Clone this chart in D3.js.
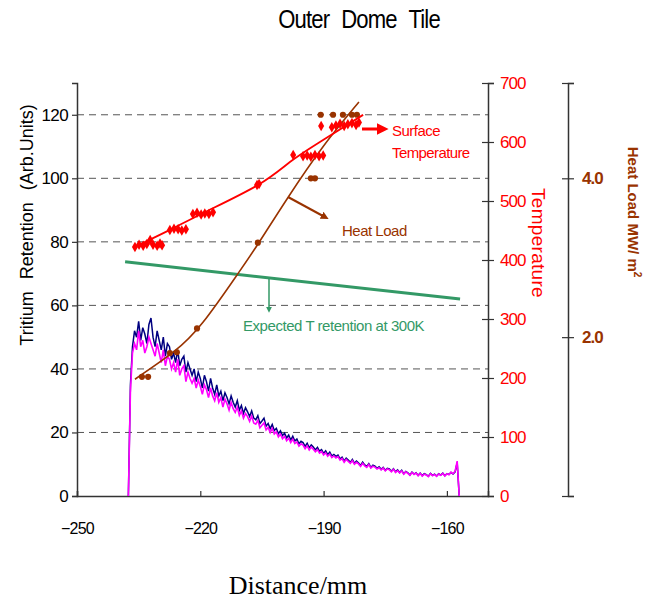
<!DOCTYPE html>
<html>
<head>
<meta charset="utf-8">
<script src="https://cdn.jsdelivr.net/npm/d3@7"></script>
<style>
  body { margin: 0; background: #fff; }
  text { font-family: "Liberation Sans", Arial, sans-serif; }
</style>
</head>
<body>
<svg id="chart" width="658" height="602"></svg>
<script>
// tritium retention scans, sampled every 0.5 mm from -237.5 mm
const scanStart = -237.5;
const scanStep = 0.5;
const blueRetention = [
  0, 35,
  47, 52, 50, 55, 49, 53, 51, 48, 54, 56,
  50, 47, 52, 49, 46, 50, 44, 48, 47, 43,
  45, 42, 46, 41, 43, 44, 39, 42, 40, 38,
  40, 36, 39, 37, 34, 38, 36, 33, 37, 34,
  32, 35, 31.5, 33, 30, 32.5, 31, 29, 31.5, 29.5,
  28, 30, 27, 28.5, 26, 27.8, 26.5, 25, 26.8, 24.5,
  24, 25.3, 22.8, 23.6, 24.5, 22, 22.8, 21.2, 22.5, 20.6,
  21.3, 19.6, 20.5, 19, 19.8, 18.3, 19.2, 17.6, 18.8, 17.3,
  17.9, 16.4, 17.2, 16.8, 15.6, 16.6, 15.2, 16.1, 15.4, 14.5,
  15.3, 14.1, 14.6, 13.4, 14.2, 13.0, 13.8, 12.6, 13.1, 12.5,
  12.9, 11.7, 12.2, 11.0, 11.9, 11.3, 10.6, 11.5, 10.3, 11.0,
  10.4, 9.6, 10.7, 9.8, 9.3, 10.2, 9.0, 9.7, 9.4, 8.7,
  9.2, 8.4, 9.0, 8.1, 8.7, 8.5, 7.8, 8.6, 7.6, 8.2,
  7.4, 8.1, 7.0, 7.7, 7.3, 6.6, 7.5, 6.9, 7.3, 6.5,
  7.2, 6.4, 7.0, 6.7, 6.2, 7.1, 6.5, 6.9, 6.3, 7.0,
  6.6, 7.2, 6.4, 7.0, 6.8, 7.4, 6.9, 7.6,
  10.5, 0
];
const magentaRetention = [
  0, 33,
  45, 48, 46, 52, 47, 49, 45, 47, 50, 48,
  46, 44, 48, 45, 42, 46, 41, 44, 43, 40,
  42, 39, 43, 38, 40, 41, 36, 39, 37, 35.5,
  37, 34, 36.5, 34.5, 32, 35, 33.5, 31, 34, 31.5,
  30, 32.5, 29.5, 31, 28, 30.5, 29, 27, 29.5, 27.5,
  26.3, 28, 25.4, 26.8, 24.5, 26, 25, 23.5, 25.2, 23,
  22.6, 23.8, 21.5, 22.3, 23, 20.8, 21.6, 20, 21.3, 19.5,
  20.2, 18.6, 19.5, 18, 18.8, 17.4, 18.2, 16.8, 17.9, 16.5,
  17, 15.7, 16.4, 16, 14.9, 15.8, 14.5, 15.4, 14.7, 13.9,
  14.6, 13.5, 14, 12.9, 13.6, 12.5, 13.2, 12.1, 12.6, 12,
  12.4, 11.3, 11.8, 10.6, 11.5, 10.9, 10.3, 11.1, 10, 10.6,
  10.1, 9.3, 10.3, 9.5, 9, 9.9, 8.8, 9.4, 9.1, 8.5,
  8.9, 8.2, 8.8, 7.9, 8.5, 8.3, 7.6, 8.4, 7.4, 8,
  7.3, 7.9, 6.9, 7.6, 7.1, 6.5, 7.4, 6.8, 7.2, 6.4,
  7.1, 6.3, 6.9, 6.6, 6.1, 7, 6.4, 6.8, 6.2, 6.9,
  6.5, 7.1, 6.3, 7.0, 6.7, 7.5, 7.0, 7.8,
  11, 0
];

// expected T retention at 300K (straight line)
const expectedDist = [-238.3, -156.8];
const expectedRet = [73.7, 62.0];

// surface temperature measurements
const tempDist = [-235.9, -234.9, -233.9, -233.0, -232.2, -231.5, -230.5, -229.8, -229.3,
  -227.4, -226.4, -225.4, -224.5, -223.5,
  -221.8, -220.8, -219.8, -218.9, -217.9, -216.9,
  -206.2, -205.7, -197.4,
  -195.0, -194.0, -193.1, -192.1, -191.1, -190.1, -190.6,
  -188.0, -187.0, -186.0, -185.0, -184.1, -183.1, -182.1, -181.4];
const tempVal = [422, 426, 424, 427, 434, 426, 424, 428, 425,
  451, 453, 452, 450, 452,
  478, 480, 477, 479, 478, 481,
  527, 529, 578,
  576, 577, 575, 578, 576, 577, 627,
  625, 628, 631, 627, 630, 632, 629, 633];
const tempFitDist = [-235.4, -227.4, -218.9, -206.0, -198.2, -190.9, -180.4];
const tempFitVal = [424, 451, 481, 527, 566, 600, 646];

// heat load
const heatDist = [-234.2, -232.7, -227.4, -225.7, -220.8, -206.0, -193.1, -192.1,
  -190.7, -187.7, -185.3, -183.1, -181.9];
const heatVal = [1.50, 1.50, 1.80, 1.81, 2.11, 3.19, 4.00, 4.00,
  4.80, 4.80, 4.80, 4.80, 4.80];
const heatFitDist = [-235.9, -226.6, -219.3, -211.1, -206.0, -198.9, -190.1, -181.4];
const heatFitVal = [1.47, 1.81, 2.19, 2.78, 3.17, 3.74, 4.40, 4.96];

const distTicks = [-250, -220, -190, -160];
const retTicks = [0, 20, 40, 60, 80, 100, 120];
const tempTicks = [0, 100, 200, 300, 400, 500, 600, 700];
const heatTicks = [0, 2, 4, 5.2];

const svg = d3.select("#chart");

let x = d3.scaleLinear().domain([-250, -150]).range([77, 488]);
let yRet = d3.scaleLinear().domain([0, 130]).range([496, 83]);
let yTemp = d3.scaleLinear().domain([0, 700]).range([496, 83]);
let yHeat = d3.scaleLinear().domain([0, 5.2]).range([496, 83]);

let defs = svg.append("defs");
function arrowHead(id, color) {
    defs.append("marker")
        .attr("id", id)
        .attr("viewBox", "0 0 10 10")
        .attr("refX", 2).attr("refY", 5)
        .attr("markerWidth", 4).attr("markerHeight", 4)
        .attr("orient", "auto")
        .append("path")
        .attr("d", "M0,0L10,5L0,10Z")
        .style("fill", color);
}
arrowHead("arRed", "#ff0000");
arrowHead("arBrown", "#993300");
arrowHead("arGreen", "#339966");

// gridlines
svg.append("g").selectAll("line")
    .data(retTicks.filter(d => d > 0))
    .join("line")
    .attr("x1", 77).attr("x2", 488)
    .attr("y1", d => yRet(d)).attr("y2", d => yRet(d))
    .style("stroke", "#555")
    .style("stroke-width", 1)
    .style("stroke-dasharray", "7,5");

// left axis
let leftAxis = svg.append("g")
    .attr("transform", "translate(77,0)")
    .call(d3.axisLeft(yRet).tickValues(retTicks).tickSize(5).tickPadding(4));
leftAxis.selectAll("text").style("font-size", "17px").style("letter-spacing", "-0.6px").style("fill", "#000");

// bottom axis
let bottomAxis = svg.append("g")
    .attr("transform", "translate(0,496)")
    .call(d3.axisBottom(x).tickValues(distTicks).tickSize(-5));
bottomAxis.selectAll("text")
    .attr("dy", null).attr("y", 38)
    .style("font-size", "16px").style("letter-spacing", "-0.8px").style("fill", "#000");

// temperature axis
let tempAxis = svg.append("g")
    .attr("transform", "translate(488,0)")
    .call(d3.axisRight(yTemp).tickValues(tempTicks).tickSize(6).tickPadding(6));
tempAxis.selectAll(".tick line").attr("x1", -6).attr("x2", 6);
tempAxis.selectAll("text").style("font-size", "17px").style("letter-spacing", "-0.9px").style("fill", "#ff0000");

// heat load axis
let heatAxis = svg.append("g")
    .attr("transform", "translate(568,0)")
    .call(d3.axisRight(yHeat).tickValues(heatTicks).tickSize(6).tickPadding(8)
        .tickFormat(d => (d === 2 || d === 4) ? d.toFixed(1) : ""));
heatAxis.selectAll(".tick line").attr("x1", -6).attr("x2", 6);
heatAxis.selectAll("text").style("font-size", "17px").style("font-weight", "bold")
    .style("letter-spacing", "-1px").style("fill", "#993300");

svg.selectAll(".domain").style("stroke", "#333").style("stroke-width", 1.5);
svg.selectAll(".tick line").style("stroke", "#333").style("stroke-width", 1.2);

// retention scans
let scanLine = d3.line()
    .x((d, i) => x(scanStart + i * scanStep))
    .y(d => yRet(d));
svg.append("path").attr("d", scanLine(blueRetention))
    .style("fill", "none").style("stroke", "#000080").style("stroke-width", 1.5);
svg.append("path").attr("d", scanLine(magentaRetention))
    .style("fill", "none").style("stroke", "#ff00ff").style("stroke-width", 1.6);

// expected retention
svg.append("path")
    .attr("d", d3.line()(expectedDist.map((d, i) => [x(d), yRet(expectedRet[i])])))
    .style("fill", "none").style("stroke", "#339966").style("stroke-width", 3);

// heat load fit and points
svg.append("path")
    .attr("d", d3.line().curve(d3.curveNatural)(heatFitDist.map((d, i) => [x(d), yHeat(heatFitVal[i])])))
    .style("fill", "none").style("stroke", "#993300").style("stroke-width", 1.6);
svg.append("g").selectAll("path")
    .data(heatDist.map((d, i) => [d, heatVal[i]]))
    .join("path")
    .attr("d", d3.symbol().type(d3.symbolCircle).size(30))
    .attr("transform", d => "translate(" + x(d[0]) + "," + yHeat(d[1]) + ")")
    .style("fill", "#993300");

// temperature fit and points
svg.append("path")
    .attr("d", d3.line().curve(d3.curveNatural)(tempFitDist.map((d, i) => [x(d), yTemp(tempFitVal[i])])))
    .style("fill", "none").style("stroke", "#ff0000").style("stroke-width", 1.8);
svg.append("g").selectAll("path")
    .data(tempDist.map((d, i) => [d, tempVal[i]]))
    .join("path")
    .attr("d", d3.symbol().type(d3.symbolDiamond).size(32))
    .attr("transform", d => "translate(" + x(d[0]) + "," + yTemp(d[1]) + ")")
    .style("fill", "#ff0000");

// annotations
svg.append("line").attr("x1", 362).attr("y1", 129).attr("x2", 379).attr("y2", 129)
    .attr("marker-end", "url(#arRed)")
    .style("stroke", "#ff0000").style("stroke-width", 3);
svg.append("text").attr("x", 392).attr("y", 136).text("Surface")
    .style("font-size", "15px").style("letter-spacing", "-0.5px").style("fill", "#ff0000");
svg.append("text").attr("x", 392).attr("y", 158).text("Temperature")
    .style("font-size", "15px").style("letter-spacing", "-0.6px").style("fill", "#ff0000");

svg.append("line").attr("x1", 288).attr("y1", 197).attr("x2", 323).attr("y2", 216)
    .attr("marker-end", "url(#arBrown)")
    .style("stroke", "#993300").style("stroke-width", 2);
svg.append("text").attr("x", 342).attr("y", 236).text("Heat Load")
    .style("font-size", "15px").style("letter-spacing", "-0.5px").style("fill", "#993300");

svg.append("line").attr("x1", 269).attr("y1", 278).attr("x2", 269).attr("y2", 308)
    .attr("marker-end", "url(#arGreen)")
    .style("stroke", "#339966").style("stroke-width", 1.5);
svg.append("text").attr("x", 243).attr("y", 331).text("Expected T retention at 300K")
    .style("font-size", "15px").style("letter-spacing", "-0.45px").style("fill", "#339966");

// titles
svg.append("text")
    .attr("transform", "translate(359,28) scale(0.85,1)")
    .attr("text-anchor", "middle")
    .text("Outer Dome Tile")
    .style("font-size", "26px").style("letter-spacing", "-1px").style("word-spacing", "8px");

svg.append("text")
    .attr("transform", "translate(33,225) rotate(-90)")
    .attr("text-anchor", "middle")
    .text("Tritium Retention (Arb.Units)")
    .style("font-size", "18px").style("word-spacing", "7px");

svg.append("text")
    .attr("transform", "translate(532,243) rotate(90)")
    .attr("text-anchor", "middle")
    .text("Temperature")
    .style("font-size", "19px").style("letter-spacing", "0.3px").style("fill", "#ff0000");

svg.append("text")
    .attr("transform", "translate(628,212) rotate(90)")
    .attr("text-anchor", "middle")
    .style("font-size", "15px").style("font-weight", "bold").style("fill", "#993300")
    .text("Heat Load MW/ m")
    .append("tspan").attr("dy", -6).style("font-size", "10px").text("2");

svg.append("text").attr("x", 298).attr("y", 594)
    .attr("text-anchor", "middle")
    .text("Distance/mm")
    .style("font-family", "'Liberation Serif', 'Times New Roman', serif")
    .style("font-size", "26px");
</script>
</body>
</html>
